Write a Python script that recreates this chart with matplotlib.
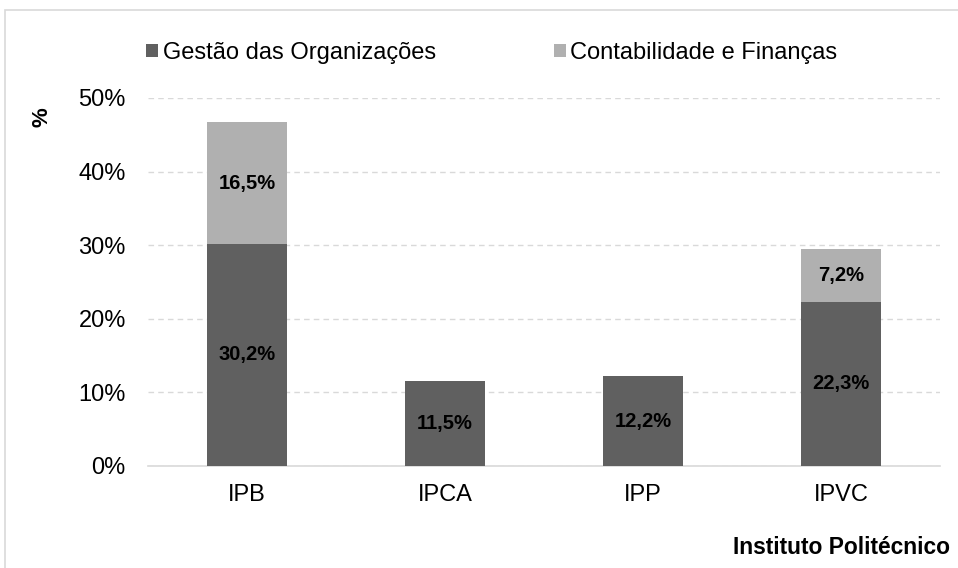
import matplotlib
matplotlib.use("Agg")
import matplotlib.pyplot as plt
from matplotlib.patches import Rectangle
import numpy as np

plt.rcParams['font.family'] = ['Liberation Sans', 'DejaVu Sans']

categories = ["IPB", "IPCA", "IPP", "IPVC"]
gestao = [30.2, 11.5, 12.2, 22.3]
contab = [16.5, 0.0, 0.0, 7.2]
series_names = ["Gestão das Organizações", "Contabilidade e Finanças"]
yticks = [0, 10, 20, 30, 40, 50]

W, H = 958, 568
fig = plt.figure(figsize=(W/100, H/100), dpi=100)
ax = fig.add_axes([148/W, 1-466/H, (940-148)/W, (466-98)/H])

x = np.arange(len(categories))
dark = "#606060"
light = "#b0b0b0"
width = 0.40
b1 = ax.bar(x, gestao, width, color=dark, label=series_names[0], zorder=3)
b2 = ax.bar(x, contab, width, bottom=gestao, color=light, label=series_names[1], zorder=3)

for i in range(len(categories)):
    if gestao[i] > 0:
        ax.text(x[i], gestao[i]/2, f"{gestao[i]:.1f}%".replace('.', ','), ha='center', va='center',
                fontsize=14.5, fontweight='bold', color='black', zorder=4)
    if contab[i] > 0:
        ax.text(x[i], gestao[i] + contab[i]/2, f"{contab[i]:.1f}%".replace('.', ','), ha='center', va='center',
                fontsize=14.5, fontweight='bold', color='black', zorder=4)

ax.set_xlim(-0.5, len(categories)-0.5)
ax.set_ylim(0, 50)
ax.set_yticks(yticks)
ax.set_yticklabels([f"{v}%" for v in yticks], fontsize=17)
ax.set_xticks(x)
ax.set_xticklabels(categories, fontsize=17)
ax.tick_params(axis='x', length=0, pad=13)
ax.tick_params(axis='y', length=0, pad=16)
ax.yaxis.grid(True, linestyle=(0, (4, 3)), color='#d9d9d9', linewidth=1, zorder=0)
for s in ['top', 'right', 'left']:
    ax.spines[s].set_visible(False)
ax.spines['bottom'].set_color('#d9d9d9')
ax.spines['bottom'].set_linewidth(1.2)

fig.text(42/W, 1-117/H, "%", rotation=90, fontsize=16, fontweight='bold', ha='center', va='center')

leg = fig.legend(handles=[b1, b2], labels=series_names, loc='center left',
                 bbox_to_anchor=(139/W, 1-53/H), ncol=2, frameon=False, fontsize=17,
                 handlelength=0.5, handleheight=0.5, handletextpad=0.2, columnspacing=5.0,
                 borderaxespad=0, borderpad=0.3)

fig.text(733/W, 1-548/H, "Instituto Politécnico", fontsize=16.4, fontweight='bold',
         ha='left', va='center')

fig.patches.append(Rectangle((5/W, -0.1), 1.2, 1.1 - 10/H, transform=fig.transFigure,
                             fill=False, edgecolor='#d9d9d9', linewidth=1.2))

fig.savefig("out.png", dpi=100)
